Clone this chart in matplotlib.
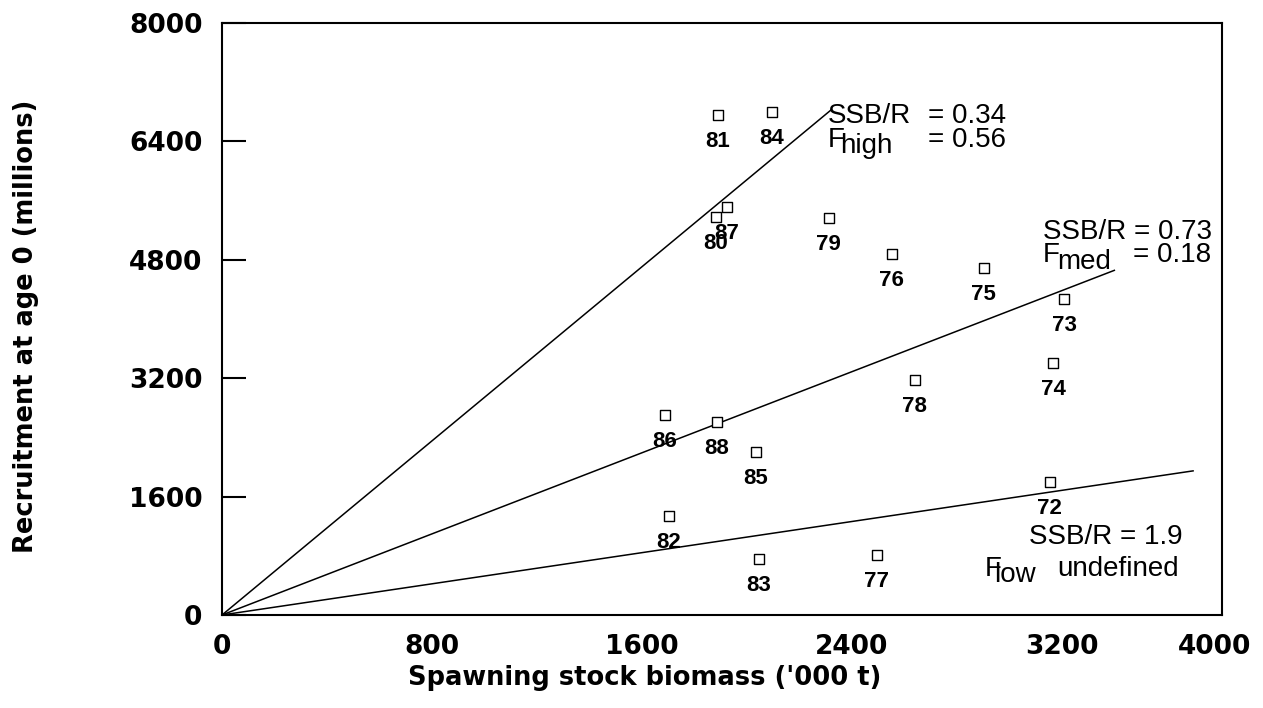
import numpy as np
import matplotlib.pyplot as plt

# spawning stock biomass ('000 t) and recruitment (millions), by year class
years = ['72', '73', '74', '75', '76', '77', '78', '79', '80',
         '81', '82', '83', '84', '85', '86', '87', '88']
ssb = [3154, 3208, 3166, 2903, 2552, 2495, 2640, 2312, 1882,
       1890, 1703, 2046, 2095, 2034, 1688, 1924, 1886]
rec = [1797, 4270, 3405, 4689, 4878, 811, 3175, 5364, 5378,
       6757, 1338, 757, 6797, 2203, 2703, 5513, 2608]

# replacement lines: SSB/R ratio and how far each line runs
ratios = [0.34, 0.73, 1.9]
line_end = [2320, 3400, 3700]

yticks = [0, 1600, 3200, 4800, 6400, 8000]
xticks = [0, 800, 1600, 2400, 3200]

fig = plt.figure(figsize=(12.63, 7.08), dpi=100)
ax = fig.add_axes([0.1758, 0.1314, 0.7917, 0.8361])

for r, xe in zip(ratios, line_end):
    xs = np.array([0, xe])
    ax.plot(xs, xs / r, color='black', lw=1.1)

ax.scatter(ssb, rec, marker='s', s=60, facecolors='white',
           edgecolors='black', linewidths=1.0, zorder=3)
for yr, x, y in zip(years, ssb, rec):
    ax.text(x, y - 215, yr, ha='center', va='top', fontsize=16,
            fontweight='bold', family='Liberation Sans', zorder=2)

# the original frame ends short of 4000 but the last label says 4000
ax.set_xlim(0, 3810)
ax.set_ylim(0, 8000)
ax.set_xticks(xticks + [3780])
ax.set_xticklabels([str(t) for t in xticks] + ['4000'])
ax.set_yticks(yticks)
ax.tick_params(axis='x', length=0, pad=14, labelsize=19)
ax.tick_params(axis='y', direction='in', length=17, width=1.5, pad=14,
               labelsize=19)
for lab in ax.get_xticklabels() + ax.get_yticklabels():
    lab.set_fontweight('bold')
for sp in ax.spines.values():
    sp.set_linewidth(1.5)

ax.set_xlabel("Spawning stock biomass ('000 t)", fontsize=18.5,
              fontweight='bold')
ax.xaxis.set_label_coords(0.423, -0.085)
ax.set_ylabel("Recruitment at age 0 (millions)", fontsize=18.5,
              fontweight='bold')
ax.yaxis.set_label_coords(-0.183, 0.487)

tkw = dict(fontsize=20, va='baseline', ha='left', family='Liberation Sans')
# line labels
ax.text(2309, 6649, 'SSB/R', **tkw)
ax.text(2690, 6649, '= 0.34', **tkw)
ax.text(2309, 6324, 'F', **tkw)
ax.text(2354, 6243, 'high', **tkw)
ax.text(2690, 6324, '= 0.56', **tkw)

ax.text(3128, 5081, 'SSB/R = 0.73', **tkw)
ax.text(3128, 4770, 'F', **tkw)
ax.text(3181, 4676, 'med', **tkw)
ax.text(3470, 4770, '= 0.18', **tkw)

ax.text(3074, 959, 'SSB/R = 1.9', **tkw)
ax.text(2907, 527, 'F', **tkw)
ax.text(2941, 446, 'low', **tkw)
ax.text(3181, 527, 'undefined', **tkw)

fig.savefig('out.png', dpi=100)
